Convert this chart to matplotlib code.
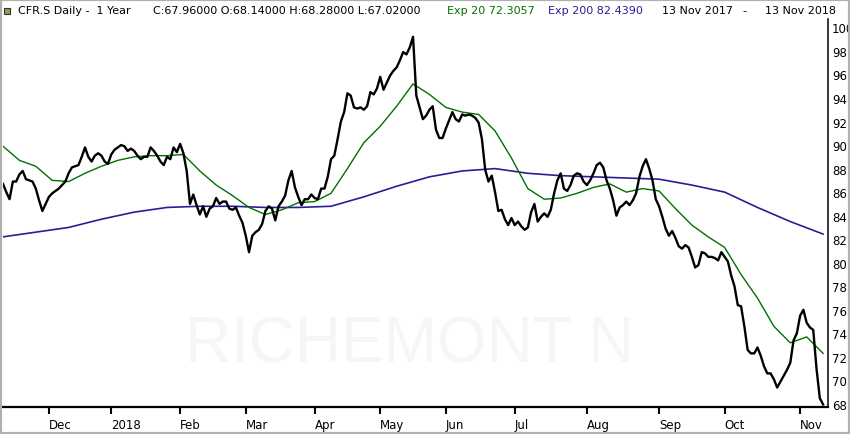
import numpy as np
import pandas as pd
import matplotlib
matplotlib.use("Agg")
import matplotlib.pyplot as plt
from matplotlib.patches import Rectangle

# daily closes, CFR.S, 13 Nov 2017 - 13 Nov 2018
close = [
    86.7, 86.0, 85.4, 86.9, 86.9, 87.5, 87.8, 87.1, 87.0, 86.9,
    86.3, 85.3, 84.4, 85.0, 85.6, 85.9, 86.1, 86.3, 86.6, 86.9,
    87.6, 88.1, 88.2, 88.3, 89.0, 89.8, 89.0, 88.6, 89.1, 89.3,
    89.1, 88.6, 88.4, 89.2, 89.6, 89.8, 90.0, 89.9, 89.5, 89.7,
    89.5, 89.1, 88.8, 89.0, 89.0, 89.8, 89.5, 89.1, 88.6, 88.3,
    89.0, 88.8, 89.8, 89.4, 90.1, 89.3, 87.8, 85.0, 85.8, 84.9,
    84.1, 84.8, 83.9, 84.6, 84.8, 85.5, 85.0, 85.2, 85.2, 84.6,
    84.5, 84.7, 84.0, 83.4, 82.3, 80.9, 82.3, 82.6, 82.8, 83.3,
    84.4, 84.8, 84.6, 83.6, 84.8, 85.2, 85.7, 87.0, 87.8, 86.4,
    85.6, 84.9, 85.4, 85.4, 85.8, 85.5, 85.4, 86.3, 86.3, 87.3,
    88.8, 89.1, 90.5, 92.0, 92.8, 94.4, 94.2, 93.2, 93.1, 93.2,
    93.0, 93.3, 94.5, 94.3, 94.8, 95.8, 94.7, 95.3, 95.9, 96.3,
    96.6, 97.2, 97.9, 97.7, 98.3, 99.2, 94.2, 93.2, 92.2, 92.5,
    93.0, 93.3, 91.3, 90.6, 90.6, 91.4, 92.1, 92.8, 92.2, 92.0,
    92.6, 92.5, 92.6, 92.5, 92.3, 91.9, 90.5, 87.9, 86.9, 87.4,
    86.0, 84.4, 84.5, 83.7, 83.2, 83.8, 83.2, 83.5, 83.1, 82.8,
    83.0, 84.3, 85.0, 83.5, 83.9, 84.2, 83.9, 84.5, 85.9, 87.0,
    87.6, 86.3, 86.1, 86.6, 87.4, 87.6, 87.5, 86.9, 86.6, 87.0,
    87.6, 88.3, 88.5, 88.1, 87.0, 86.3, 85.3, 84.0, 84.7, 84.9,
    85.2, 84.9, 85.3, 85.9, 87.3, 88.2, 88.8, 88.0, 87.0, 85.4,
    84.8, 83.9, 82.9, 82.3, 82.7, 82.1, 81.4, 81.2, 81.5, 81.3,
    80.5, 79.6, 79.8, 80.9, 80.8, 80.5, 80.5, 80.4, 80.2, 80.9,
    80.5, 80.1, 78.9, 78.0, 76.4, 76.3, 74.6, 72.6, 72.3, 72.3,
    72.8, 72.1, 71.2, 70.6, 70.6, 70.1, 69.4, 69.9, 70.4, 70.9,
    71.5, 73.4, 74.0, 75.5, 76.0, 74.9, 74.5, 74.3, 71.0, 68.5,
    67.96,
]

# Exp 20, sampled every 5 sessions
ema20_day = list(range(0, 251, 5))
ema20 = [
    89.9, 88.7, 88.2, 87.0, 86.9, 87.6, 88.2, 88.7, 89.0, 89.1,
    89.1, 89.2, 87.8, 86.6, 85.7, 84.7, 84.1, 84.5, 85.1, 85.2,
    85.9, 88.0, 90.2, 91.6, 93.3, 95.2, 94.3, 93.2, 92.8, 92.6,
    91.2, 88.9, 86.3, 85.4, 85.5, 85.9, 86.4, 86.7, 86.0, 86.3,
    86.1, 84.6, 83.2, 82.2, 81.3, 79.0, 77.0, 74.6, 73.2, 73.7,
    72.3057,
]

# Exp 200, sampled every 10 sessions
ema200_day = list(range(0, 251, 10))
ema200 = [
    82.2, 82.6, 83.0, 83.7, 84.3, 84.7, 84.8, 84.8, 84.7, 84.7,
    84.8, 85.6, 86.5, 87.3, 87.8, 88.0, 87.6, 87.4, 87.3, 87.2,
    87.1, 86.6, 86.0, 84.7, 83.5, 82.439,
]

# SIX exchange holidays in the period
holidays = ["2017-12-25", "2017-12-26", "2018-01-01", "2018-01-02", "2018-03-30",
            "2018-04-02", "2018-05-01", "2018-05-10", "2018-05-21", "2018-08-01"]

days = pd.bdate_range("2017-11-13", "2018-11-13")
days = days[~days.isin(pd.to_datetime(holidays))]

# first session of each month -> tick
tick_pos = []
tick_lab = []
for i in range(1, len(days)):
    if days[i].month != days[i - 1].month:
        tick_pos.append(i)
        tick_lab.append("2018" if days[i].month == 1 else days[i].strftime("%b"))

GREEN = "#007000"
BLUE = "#2e1c96"

fig = plt.figure(figsize=(8.5, 4.35), dpi=100)
ax = fig.add_axes([3 / 850, 27 / 435, 825 / 850, 388 / 435])

x = np.arange(len(close))
ax.plot(ema200_day, ema200, color=BLUE, lw=1.2, zorder=2)
ax.plot(ema20_day, ema20, color=GREEN, lw=1.0, zorder=3)
ax.plot(x, close, color="black", lw=1.7, zorder=4)

# watermark
ax.text(0.493, 0.16, "RICHEMONT N", transform=ax.transAxes, ha="center", va="center",
        fontsize=46, color="#f6f6f6", family="Liberation Sans", zorder=0)

ax.set_xlim(0, 251.5)
ax.set_ylim(67.745, 100.71)

ax.set_xticks(tick_pos)
ax.set_xticklabels(tick_lab)
for lbl in ax.get_xticklabels():
    lbl.set_ha("left")
ax.tick_params(axis="x", direction="out", length=5, width=1.5, pad=3, labelsize=8.5)

ax.yaxis.tick_right()
ax.set_yticks(range(68, 101, 2))
ax.tick_params(axis="y", length=0, pad=3, labelsize=8.5)

for side in ["left", "top"]:
    ax.spines[side].set_visible(False)
ax.spines["bottom"].set_linewidth(1.6)
ax.spines["right"].set_linewidth(1.1)

# header line
hy = 1 - 11 / 435
fig.add_artist(Rectangle((4 / 850, 1 - 15 / 435), 6 / 850, 6 / 435, transform=fig.transFigure,
                         facecolor="#9c9a4c", edgecolor="#333333", lw=0.8))
header = [
    (18, "CFR.S Daily -  1 Year", "black"),
    (153, "C:67.96000 O:68.14000 H:68.28000 L:67.02000", "black"),
    (447, "Exp 20 72.3057", GREEN),
    (548, "Exp 200 82.4390", BLUE),
    (662, "13 Nov 2017", "black"),
    (742, "-", "black"),
    (765, "13 Nov 2018", "black"),
]
for px, txt, col in header:
    fig.text(px / 850, hy, txt, color=col, fontsize=8, ha="left", va="center")

# grey frame round the picture
fig.add_artist(Rectangle((0, 0), 1, 1, transform=fig.transFigure, fill=False,
                         edgecolor="#b0b0b0", lw=3))

fig.savefig("out.png", dpi=100)
